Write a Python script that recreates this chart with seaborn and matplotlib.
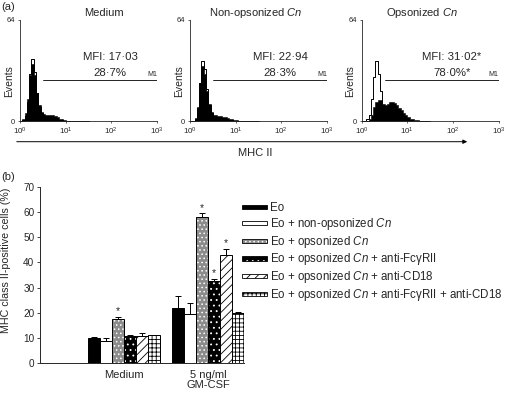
import numpy as np
import pandas as pd
import matplotlib
matplotlib.use("Agg")
import matplotlib.pyplot as plt
import matplotlib.patches as mpatches
from matplotlib.legend_handler import HandlerPatch
import seaborn as sns

# ---- data: flow cytometry histograms (counts per 0.05-decade bin, from 10^0) ----
ctrl_medium = [0, 0.5, 3, 12, 30, 39, 31, 18, 9, 5, 3, 2, 1.5, 1.2, 1, 0.8, 0.6, 0.5,
               0.4, 0.3, 0.3, 0.2, 0.2, 0.1, 0.1, 0.1, 0.1, 0, 0, 0]
fill_medium = [0, 1, 5, 14, 29, 36, 29, 18, 10, 6, 4.5, 4, 4, 4, 3.5, 3, 2.5, 1.5,
               1, 0.6, 0.3, 0.1, 0, 0, 0, 0, 0, 0, 0, 0]
ctrl_nonops = [0, 0, 1.5, 8, 24, 38, 33, 20, 10, 5, 3, 2, 1.5, 1.2, 1, 0.8, 0.6, 0.5,
               0.4, 0.3, 0.3, 0.2, 0.2, 0.1, 0.1, 0.1, 0.1, 0, 0, 0]
fill_nonops = [0, 0, 2, 9, 24, 35, 30, 19, 11, 6, 4, 3.5, 3, 3, 2.8, 2.5, 2, 1.5,
               1, 0.7, 0.4, 0.2, 0.1, 0, 0, 0, 0, 0, 0, 0]
ctrl_ops = [0, 0, 1, 4, 14, 28, 38, 30, 19, 9, 4, 2.5, 1.5, 1.2, 1, 0.8, 0.6, 0.5,
            0.4, 0.3, 0.3, 0.2, 0.2, 0.1, 0.1, 0.1, 0.1, 0, 0, 0]
fill_ops = [0, 0, 0, 1, 4, 9, 12, 13.5, 13.5, 11, 10, 11, 12, 12, 11.5, 10, 8.5, 7,
            5, 3.5, 2.5, 1.5, 1, 0.6, 0.4, 0.2, 0.1, 0, 0, 0]

hist_titles = ["Medium", "Non-opsonized $\\it{Cn}$", "Opsonized $\\it{Cn}$"]
mfi_labels = ["MFI: 17\u00b703", "MFI: 22\u00b794", "MFI: 31\u00b702*"]
pct_labels = ["28\u00b77%", "28\u00b73%", "78\u00b70%*"]

# ---- data: bar chart ----
groups = ["Medium", "5 ng/ml\nGM-CSF"]
treatments = ["Eo",
              "Eo + non-opsonized $\\it{Cn}$",
              "Eo + opsonized $\\it{Cn}$",
              "Eo + opsonized $\\it{Cn}$ + anti-Fc\u03b3RII",
              "Eo + opsonized $\\it{Cn}$ + anti-CD18",
              "Eo + opsonized $\\it{Cn}$ + anti-Fc\u03b3RII + anti-CD18"]
medium_vals = [10.0, 8.8, 17.6, 10.8, 10.8, 11.0]
medium_err = [0.2, 1.2, 0.7, 0.3, 1.0, 0.2]
gmcsf_vals = [22.0, 19.6, 58.2, 32.5, 43.0, 20.0]
gmcsf_err = [4.8, 4.1, 1.3, 0.9, 2.3, 0.2]
medium_sig = [False, False, True, False, False, False]
gmcsf_sig = [False, False, True, True, True, False]

# styles per treatment: face, hatch, hatch colour
faces = ["black", "white", "#8c8c8c", "black", "white", "white"]
hatches = [None, None, "....", "...", "////", "++++"]
hatch_cols = [None, None, "white", "white", "black", "black"]

sns.set_style("ticks")
plt.rcParams["font.family"] = ["Liberation Sans", "DejaVu Sans"]
plt.rcParams["mathtext.fontset"] = "custom"
plt.rcParams["mathtext.rm"] = "Liberation Sans"
plt.rcParams["mathtext.it"] = "Liberation Sans:italic"
plt.rcParams["hatch.linewidth"] = 0.6

W, H = 508, 395
fig = plt.figure(figsize=(W / 100, H / 100), dpi=100)

def fpos(left, top, width, height):
    return [left / W, 1 - (top + height) / H, width / W, height / H]

# ---------------- panel (a) ----------------
centers = np.arange(len(ctrl_medium)) * 0.05 + 0.025
ctrls = [ctrl_medium, ctrl_nonops, ctrl_ops]
fills = [fill_medium, fill_nonops, fill_ops]
lefts = [20, 190, 361.7]
for i in range(3):
    ax = fig.add_axes(fpos(lefts[i], 20, 137, 101))
    hd = pd.DataFrame({"log_fl": centers, "filled": fills[i], "ctrl": ctrls[i]})
    sns.histplot(data=hd, x="log_fl", weights="filled", binwidth=0.05, binrange=(0, 1.5),
                 element="step", fill=True, color="black", alpha=1, linewidth=0.4, ax=ax)
    sns.histplot(data=hd, x="log_fl", weights="ctrl", binwidth=0.05, binrange=(0, 1.5),
                 element="step", fill=False, color="black", linewidth=0.7, ax=ax)
    ax.set_xlim(0, 3)
    ax.set_ylim(0, 64)
    ax.set_xticks([0, 1, 2, 3])
    ax.set_xticklabels(["$10^{0}$", "$10^{1}$", "$10^{2}$", "$10^{3}$"], fontsize=5.8)
    ax.set_yticks([0, 64])
    ax.set_yticklabels(["0", "64"], fontsize=5.5)
    ax.tick_params(length=1.5, width=0.5, pad=2)
    ax.set_ylabel("Events", fontsize=7.5)
    ax.yaxis.set_label_coords(-0.045, 0.4)
    ax.set_xlabel("")
    sns.despine(ax=ax)
    for s in ["left", "bottom"]:
        ax.spines[s].set_linewidth(0.6)
    # M1 marker
    ax.plot([0.5, 3.0], [26, 26], color="black", lw=0.6)
    ax.text(2.89, 27, "M1", fontsize=5, ha="center", va="bottom")
    ax.text(1.97, 40.4, mfi_labels[i], fontsize=8.2, ha="center", va="center")
    ax.text(1.97, 30.2, pct_labels[i], fontsize=8.2, ha="center", va="center")

for x, t in zip([104, 256, 422], hist_titles):
    fig.text(x / W, 1 - 13 / H, t, fontsize=8, ha="center", va="center")

fig.add_artist(mpatches.FancyArrowPatch((14 / W, 1 - 141.7 / H), (470 / W, 1 - 141.7 / H),
                                        transform=fig.transFigure, arrowstyle="-|>",
                                        mutation_scale=6, lw=0.7, color="black"))
fig.text(255.5 / W, 1 - 153 / H, "MHC II", fontsize=8, ha="center", va="center")
fig.text(1 / W, 1 - 6.5 / H, "(a)", fontsize=8, ha="left", va="center")
fig.text(1 / W, 1 - 177 / H, "(b)", fontsize=8, ha="left", va="center")

# ---------------- panel (b) ----------------
df = pd.DataFrame({
    "group": [groups[0]] * 6 + [groups[1]] * 6,
    "treatment": treatments * 2,
    "value": medium_vals + gmcsf_vals,
})
axb = fig.add_axes(fpos(40, 187, 204.3, 176))
sns.barplot(data=df, x="group", y="value", hue="treatment", order=groups,
            hue_order=treatments, palette=faces, width=0.852, edgecolor="black",
            linewidth=0.7, saturation=1, errorbar=None, legend=False, ax=axb)

errs = [medium_err, gmcsf_err]
sigs = [medium_sig, gmcsf_sig]
bar_conts = list(axb.containers)
for k, cont in enumerate(bar_conts):
    for g, bar in enumerate(cont.patches):
        bar.set_facecolor(faces[k])
        if hatches[k]:
            bar.set_hatch(hatches[k])
            bar._hatch_color = matplotlib.colors.to_rgba(hatch_cols[k])
        xc = bar.get_x() + bar.get_width() / 2
        top = bar.get_height()
        e = errs[g][k]
        axb.errorbar(xc, top, yerr=[[0], [e]], fmt="none", ecolor="black",
                     elinewidth=0.7, capsize=2.3, capthick=0.7, zorder=1)
        if sigs[g][k]:
            axb.text(xc, top + e + 0.3, "*", fontsize=7.5, ha="center", va="bottom")

axb.set_xlim(-0.988, 1.426)
axb.set_ylim(0, 70)
axb.set_yticks(range(0, 71, 10))
axb.tick_params(axis="y", labelsize=7.2, length=2.5, width=0.6, pad=1.5)
axb.tick_params(axis="x", labelsize=8, length=0, pad=5)
for lbl in axb.get_xticklabels():
    lbl.set_linespacing(1.0)
axb.set_xlabel("")
axb.set_ylabel("MHC class II-positive cells (%)", fontsize=7.7)
axb.yaxis.set_label_coords(-0.142, 0.585)
sns.despine(ax=axb)
for s in ["left", "bottom"]:
    axb.spines[s].set_linewidth(0.7)


def thin_patch(legend, orig_handle, xdescent, ydescent, width, height, fontsize):
    return mpatches.Rectangle((-xdescent, -ydescent + height / 2 - 1.5), width, 3.0)


handles = []
for k in range(6):
    p = mpatches.Patch(facecolor=faces[k], edgecolor="black", lw=0.6,
                       hatch=hatches[k], label=treatments[k])
    handles.append(p)
leg = fig.legend(handles=handles, loc="upper left",
                 bbox_to_anchor=(241.5 / W, 1 - 199.5 / H), frameon=False, fontsize=8.3,
                 handlelength=2.17, handleheight=1.6, handletextpad=0.29,
                 labelspacing=0.13, borderpad=0, borderaxespad=0,
                 handler_map={mpatches.Patch: HandlerPatch(patch_func=thin_patch)})
for k, p in enumerate(leg.get_patches()):
    if hatch_cols[k]:
        p._hatch_color = matplotlib.colors.to_rgba(hatch_cols[k])

fig.savefig("out.png", dpi=100)
